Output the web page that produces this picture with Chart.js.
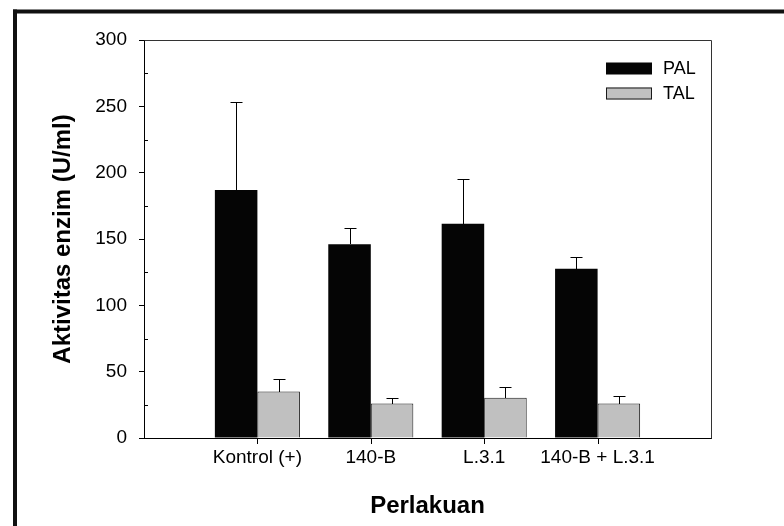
<!DOCTYPE html>
<html>
<head>
<meta charset="utf-8">
<script src="https://cdn.jsdelivr.net/npm/chart.js@4/dist/chart.umd.min.js"></script>
<style>
  html, body { margin: 0; padding: 0; background: #ffffff; }
  canvas { display: block; }
</style>
</head>
<body>
<canvas id="chart" width="784" height="526"></canvas>
<script>
// Enzyme activity (U/ml) per treatment, mean with upper error bar
const categories = ['Kontrol (+)', '140-B', 'L.3.1', '140-B + L.3.1'];
const palValues = [187, 146, 161.5, 127.5];
const palErrors = [66, 12, 34, 9];
const talValues = [35, 26, 30.3, 26];
const talErrors = [9.6, 4.5, 7.8, 5.3];
const yMin = 0;
const yMax = 300;
const yStep = 50;
const yMinorStep = 25;

const FONT = '"Liberation Sans", Arial, Helvetica, sans-serif';

// one empty slot on each side of the four treatments
const labels = ['', ...categories, ''];
const pad = arr => [null, ...arr, null];

// outer frame of the figure panel
const framePlugin = {
  id: 'panelFrame',
  beforeDraw(chart) {
    const ctx = chart.ctx;
    ctx.save();
    ctx.fillStyle = '#111111';
    ctx.fillRect(13, 9.5, 4, chart.height - 9.5);
    ctx.fillRect(13, 9.5, chart.width - 13, 4);
    ctx.restore();
  }
};

// top and right edges of the plot box, inward minor ticks on the y axis,
// and outward ticks under each treatment on the x axis
const boxPlugin = {
  id: 'plotBox',
  afterDraw(chart) {
    const { ctx, chartArea } = chart;
    const y = chart.scales.y;
    ctx.save();
    ctx.strokeStyle = '#333333';
    ctx.lineWidth = 1;
    ctx.beginPath();
    ctx.moveTo(Math.round(chartArea.left) + 0.5, Math.round(chartArea.top) + 0.5);
    ctx.lineTo(Math.round(chartArea.right) + 0.5, Math.round(chartArea.top) + 0.5);
    ctx.lineTo(Math.round(chartArea.right) + 0.5, Math.round(chartArea.bottom) + 0.5);
    ctx.stroke();
    ctx.strokeStyle = '#000000';
    ctx.beginPath();
    for (let v = yMin + yMinorStep; v < yMax; v += yStep) {
      const py = Math.round(y.getPixelForValue(v)) + 0.5;
      ctx.moveTo(Math.round(chartArea.left), py);
      ctx.lineTo(Math.round(chartArea.left) + 4, py);
    }
    ctx.stroke();
    ctx.fillStyle = '#000000';
    const step = (chartArea.right - chartArea.left) / (labels.length - 1);
    categories.forEach((c, i) => {
      const px = Math.round(chartArea.left + step * (i + 1));
      ctx.fillRect(px, Math.round(chartArea.bottom), 1, 6);
    });
    ctx.restore();
  }
};

// upper error bars drawn at each bar's centre
const errorBarPlugin = {
  id: 'errorBars',
  afterDatasetsDraw(chart) {
    const ctx = chart.ctx;
    const y = chart.scales.y;
    ctx.save();
    ctx.strokeStyle = '#000000';
    ctx.lineWidth = 1;
    chart.data.datasets.forEach((ds, di) => {
      const meta = chart.getDatasetMeta(di);
      meta.data.forEach((bar, i) => {
        const v = ds.data[i];
        const e = ds.errors[i];
        if (v == null || e == null) return;
        const x = Math.round(bar.x) + 0.5;
        const top = Math.round(y.getPixelForValue(v + e)) + 0.5;
        const base = Math.round(bar.y);
        ctx.beginPath();
        ctx.moveTo(x, base);
        ctx.lineTo(x, top);
        ctx.moveTo(x - 6, top);
        ctx.lineTo(x + 6, top);
        ctx.stroke();
      });
    });
    ctx.restore();
  }
};

// legend in the upper right of the plot
const legendPlugin = {
  id: 'innerLegend',
  afterDraw(chart) {
    const ctx = chart.ctx;
    const x0 = 606, w = 46, h = 12;
    const rows = [62.5, 87.5];
    ctx.save();
    ctx.font = '18px ' + FONT;
    ctx.textBaseline = 'middle';
    ctx.textAlign = 'left';
    chart.data.datasets.forEach((ds, i) => {
      const y0 = rows[i];
      ctx.fillStyle = ds.backgroundColor;
      ctx.fillRect(x0, y0, w, h);
      if (ds.borderWidth) {
        ctx.strokeStyle = ds.borderColor;
        ctx.lineWidth = 1;
        ctx.strokeRect(x0 + 0.5, y0 + 0.5, w - 1, h - 1);
      }
      ctx.fillStyle = '#000000';
      ctx.fillText(ds.label, 663, y0 + h / 2 + 1);
    });
    ctx.restore();
  }
};

new Chart(document.getElementById('chart'), {
  type: 'bar',
  data: {
    labels: labels,
    datasets: [
      {
        label: 'PAL',
        data: pad(palValues),
        errors: pad(palErrors),
        backgroundColor: '#050505',
        borderColor: '#050505',
        borderWidth: 0
      },
      {
        label: 'TAL',
        data: pad(talValues),
        errors: pad(talErrors),
        backgroundColor: '#c0c0c0',
        borderColor: '#1a1a1a',
        borderWidth: 1
      }
    ]
  },
  options: {
    responsive: false,
    animation: false,
    events: [],
    layout: { padding: { top: 40, right: 73, left: 0, bottom: 0 } },
    datasets: { bar: { categoryPercentage: 0.75, barPercentage: 1.0 } },
    plugins: { legend: { display: false }, tooltip: { enabled: false } },
    scales: {
      x: {
        offset: false,
        grid: {
          offset: false,
          drawOnChartArea: false,
          tickLength: 5,
          color: 'rgba(0,0,0,0)'
        },
        border: { display: true, color: '#000000', width: 1 },
        ticks: {
          color: '#000000',
          padding: 3,
          maxRotation: 0,
          autoSkip: false,
          font: { family: FONT, size: 19 }
        },
        title: {
          display: true,
          text: 'Perlakuan',
          color: '#000000',
          font: { family: FONT, size: 24, weight: 'bold' },
          padding: { top: 0, bottom: 5 }
        },
        afterFit(scale) { scale.height = 88; }
      },
      y: {
        min: yMin,
        max: yMax,
        grid: { drawOnChartArea: false, tickLength: 5, color: '#000000' },
        border: { display: true, color: '#000000', width: 1 },
        ticks: {
          stepSize: yStep,
          color: '#000000',
          padding: 12,
          font: { family: FONT, size: 19 }
        },
        title: {
          display: true,
          text: 'Aktivitas enzim (U/ml)',
          color: '#000000',
          font: { family: FONT, size: 24, weight: 'bold' },
          padding: { top: 49, bottom: 0 }
        },
        afterFit(scale) { scale.width = 144; }
      }
    }
  },
  plugins: [framePlugin, boxPlugin, errorBarPlugin, legendPlugin]
});
</script>
</body>
</html>
